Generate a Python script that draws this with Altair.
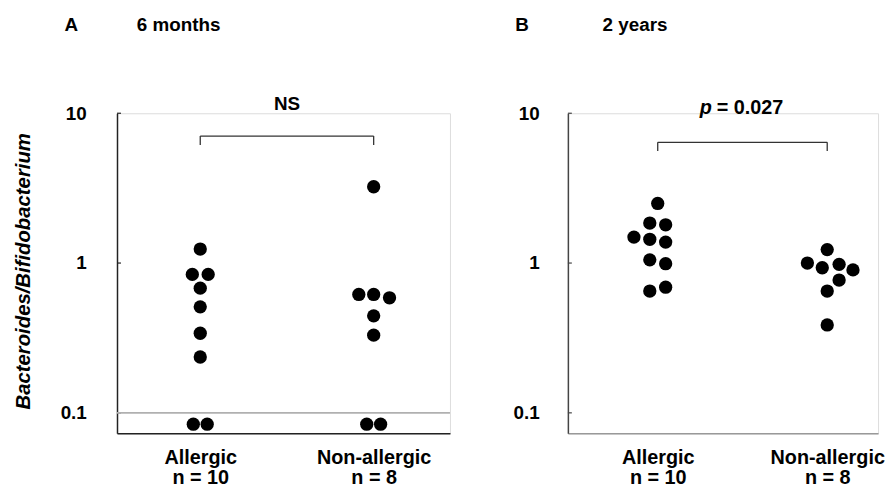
import altair as alt
import pandas as pd

FONT = "Liberation Sans"

# ---- data ----
group_ids = [1, 2]
group_names = ["Allergic", "Non-allergic"]
group_n = ["n = 10", "n = 8"]

# Panel A: 6 months
a_allergic = [1.24, 0.84, 0.84, 0.68, 0.51, 0.34, 0.236, 0.084, 0.084]
a_allergic_dx = [0, -8, 8, 0, 0, 0, 0, -7, 7]          # side-by-side slot (px)
a_nonallergic = [3.23, 0.617, 0.617, 0.586, 0.444, 0.33, 0.084, 0.084]
a_nonallergic_dx = [0, -15, 0, 16, 0, 0, -7, 7]

# Panel B: 2 years
b_allergic = [2.5, 1.85, 1.80, 1.49, 1.44, 1.38, 1.05, 0.99, 0.65, 0.69]
b_allergic_dx = [0, -8, 8, -24, -8, 8, -8, 8, -8, 8]
b_nonallergic = [1.23, 1.0, 0.93, 0.98, 0.90, 0.77, 0.65, 0.386]
b_nonallergic_dx = [0, -20, -5, 12, 26, 12, 0, 0]

y_ticks = [0.1, 1, 10]
a_bracket = [7.04, 6.14]   # bar level, tick end
b_bracket = [6.4, 5.6]
a_test_label = "NS"
b_test_label = ["p", "= 0.027"]

Y_DOMAIN = [0.073, 10]
H = 323


def points_df(vals1, dx1, vals2, dx2, unit):
    rows = []
    for g, vals, dxs in ((1, vals1, dx1), (2, vals2, dx2)):
        for v, d in zip(vals, dxs):
            rows.append({"x": g + d / unit, "y": v})
    return pd.DataFrame(rows)


def panel(vals1, dx1, vals2, dx2, width, xdom, unit, bracket, letter, period,
          period_dx, show_ytitle, ycolor, xcolor, ylabpad, extent, baseline_rule):
    xs = alt.Scale(domain=xdom, nice=False, zero=False)
    ys = alt.Scale(type="log", domain=Y_DOMAIN, nice=False)
    label_expr = ("datum.value == 1 ? ['%s', '%s'] : ['%s', '%s']"
                  % (group_names[0], group_n[0], group_names[1], group_n[1]))
    xaxis = alt.Axis(values=group_ids, labelExpr=label_expr, ticks=False,
                     grid=False, domainColor=xcolor, domainWidth=1.5,
                     labelFont=FONT, labelFontSize=20, labelFontWeight="bold",
                     labelColor="black", labelPadding=14, labelLineHeight=21,
                     labelBaseline="top", title=None)
    yaxis_kw = dict(values=y_ticks, format="~g", ticks=False, grid=False,
                    domainColor=ycolor, domainWidth=1.5, labelFont=FONT,
                    labelFontSize=19, labelFontWeight="bold", labelColor="black",
                    labelPadding=ylabpad, minExtent=extent, maxExtent=extent)
    if show_ytitle:
        yaxis = alt.Axis(title="Bacteroides/Bifidobacterium", titleFont=FONT,
                         titleFontSize=20.5, titleFontWeight="bold",
                         titleFontStyle="italic", titleColor="black",
                         titleX=-84, titleY=159, **yaxis_kw)
    else:
        yaxis = alt.Axis(title=None, **yaxis_kw)

    pts = points_df(vals1, dx1, vals2, dx2, unit)
    dots = alt.Chart(pts).mark_circle(size=180, color="black", opacity=1).encode(
        x=alt.X("x:Q", scale=xs, axis=xaxis),
        y=alt.Y("y:Q", scale=ys, axis=yaxis),
    )
    layers = [dots]

    ticks_df = pd.DataFrame({"y": y_ticks})
    layers.append(alt.Chart(ticks_df).mark_rule(color=ycolor, strokeWidth=1.2).encode(
        y=alt.Y("y:Q", scale=ys), x=alt.value(0), x2=alt.value(4)))

    if baseline_rule:
        layers.append(alt.Chart(pd.DataFrame({"y": [0.1]})).mark_rule(
            color="#b0b0b0", strokeWidth=1.6).encode(
            y=alt.Y("y:Q", scale=ys), x=alt.value(0), x2=alt.value(width)))

    br = pd.DataFrame({"x1": [group_ids[0]], "x2": [group_ids[1]],
                       "y": [bracket[0]], "y2": [bracket[1]]})
    layers.append(alt.Chart(br).mark_rule(color="#333", strokeWidth=1.3).encode(
        x=alt.X("x1:Q", scale=xs), x2="x2:Q", y=alt.Y("y:Q", scale=ys)))
    brv = pd.DataFrame({"x": group_ids, "y": [bracket[0]] * 2, "y2": [bracket[1]] * 2})
    layers.append(alt.Chart(brv).mark_rule(color="#333", strokeWidth=1.3).encode(
        x=alt.X("x:Q", scale=xs), y=alt.Y("y:Q", scale=ys), y2="y2:Q"))

    layers.append(alt.Chart(pd.DataFrame({"t": [letter]})).mark_text(
        font=FONT, fontSize=19, fontWeight="bold", align="left",
        baseline="alphabetic", color="black").encode(
        text="t:N", x=alt.value(-53), y=alt.value(-83)))
    layers.append(alt.Chart(pd.DataFrame({"t": [period]})).mark_text(
        font=FONT, fontSize=19, fontWeight="bold", align="left",
        baseline="alphabetic", color="black").encode(
        text="t:N", x=alt.value(period_dx), y=alt.value(-83)))
    return layers, xs, ys


a_layers, a_xs, a_ys = panel(a_allergic, a_allergic_dx, a_nonallergic, a_nonallergic_dx,
                             336, [0.52, 2.44], 175, a_bracket, "A", "6 months", 20,
                             True, "#222", "#222", 31, 109, True)
a_layers.append(alt.Chart(pd.DataFrame({"x": [1.5], "y": [11.6], "t": [a_test_label]})).mark_text(
    font=FONT, fontSize=19, fontWeight="bold", baseline="middle", color="black").encode(
    x=alt.X("x:Q", scale=a_xs), y=alt.Y("y:Q", scale=a_ys), text="t:N"))

b_layers, b_xs, b_ys = panel(b_allergic, b_allergic_dx, b_nonallergic, b_nonallergic_dx,
                             313, [0.47, 2.30], 171, b_bracket, "B", "2 years", 35,
                             False, "#444", "#999", 29, 60, False)
b_layers.append(alt.Chart(pd.DataFrame({"x": [1.5], "y": [10.8], "t": [b_test_label[0]]})).mark_text(
    font=FONT, fontSize=20, fontWeight="bold", fontStyle="italic", align="right",
    baseline="middle", dx=-31, color="black").encode(
    x=alt.X("x:Q", scale=b_xs), y=alt.Y("y:Q", scale=b_ys), text="t:N"))
b_layers.append(alt.Chart(pd.DataFrame({"x": [1.5], "y": [10.8], "t": [b_test_label[1]]})).mark_text(
    font=FONT, fontSize=20, fontWeight="bold", align="left",
    baseline="middle", dx=-26, color="black").encode(
    x=alt.X("x:Q", scale=b_xs), y=alt.Y("y:Q", scale=b_ys), text="t:N"))

chart_a = alt.layer(*a_layers).properties(width=336, height=H)
chart_b = alt.layer(*b_layers).properties(width=313, height=H)

chart = alt.hconcat(chart_a, chart_b, spacing=119, bounds="flush").properties(
    padding={"left": 0, "top": 5, "right": 0, "bottom": 0}
).configure_view(stroke=None).configure(font=FONT, background="white")

chart.save("out.html", embed_options={"renderer": "svg", "actions": False})
